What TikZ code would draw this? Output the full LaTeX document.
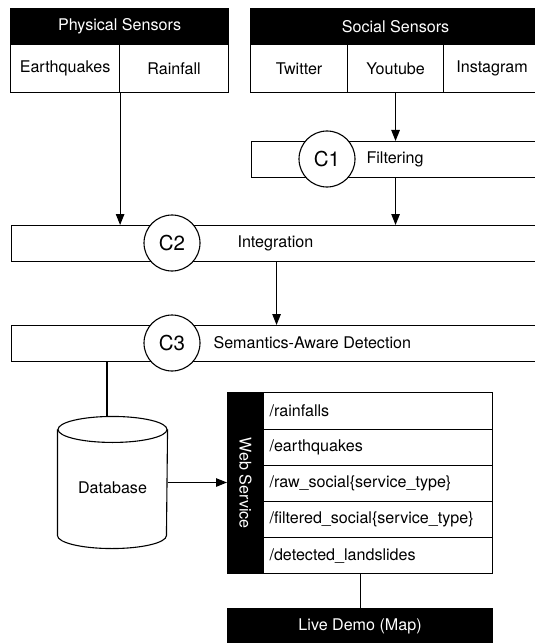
\documentclass[tikz,border=0pt]{standalone}
\usepackage{fontspec}
\setmainfont{TeX Gyre Heros}
\usetikzlibrary{arrows.meta,calc}
\begin{document}
\begin{tikzpicture}[x=1bp,y=1bp,
  font=\fontsize{16.1bp}{19bp}\selectfont, line width=1.1bp,
  hdr/.style={fill=black, text=white, draw=black, anchor=north west, inner sep=0pt, minimum height=36bp},
  cell/.style={draw, fill=white, anchor=north west, inner sep=0pt, minimum height=48bp},
  bar/.style={draw, fill=white, anchor=north west, inner sep=0pt, minimum height=36bp},
  stage/.style={draw, circle, fill=white, minimum size=56bp, inner sep=0pt, font=\fontsize{20.5bp}{24bp}\selectfont},
  tag/.style={anchor=west, inner sep=0pt},
  route/.style={draw, fill=white, anchor=north west, inner sep=0pt, minimum width=229bp, minimum height=36bp, text width=217bp, align=left},
  flow/.style={-{Triangle[length=11bp,width=8.5bp]}}
]
\useasboundingbox (0,-643) rectangle (535,0);
\clip (0,-643) rectangle (535,0);

% physical sensors
\node[hdr, minimum width=218bp] (phys) at (10,-8) {Physical Sensors};
\node[cell, minimum width=109bp] (eq) at (10,-44) {Earthquakes};
\node[cell, minimum width=109bp] (rain) at (119,-44) {Rainfall};

% social sensors
\node[hdr, minimum width=290bp] (soc) at (250,-8) {Social Sensors};
\node[cell, minimum width=97bp] (tw) at (250,-44) {Twitter};
\node[cell, minimum width=96bp] (yt) at (347,-44) {Youtube};
\node[cell, minimum width=97bp] (ig) at (443,-44) {Instagram};

% processing stages
\node[bar, minimum width=290bp] (filt) at (251,-141) {};
\node[stage] (c1) at (327,-159) {C1};
\node[tag] (filtl) at (366,-159) {Filtering};

\node[bar, minimum width=530bp] (integ) at (11,-225) {};
\node[stage] (c2) at (172,-243) {C2};
\node[tag] (integl) at (237,-243) {Integration};

\node[bar, minimum width=530bp] (sem) at (11,-325) {};
\node[stage] (c3) at (172,-343) {C3};
\node[tag] (seml) at (213,-343) {Semantics-Aware Detection};

% flows between stages
\draw[flow] (eq.south east) -- (eq.south east |- integ.north);
\draw[flow] (yt.south) -- (filt.north -| yt.south);
\draw[flow] (filt.south -| yt.south) -- (integ.north -| yt.south);
\draw[flow] (integ.south) -- (sem.north);

% database cylinder
\node[minimum width=109bp, minimum height=131bp, inner sep=0pt] (db) at (112.5,-482.5) {};
\draw ($(db.north west)+(0,-13)$) -- ($(db.south west)+(0,13)$)
  arc[start angle=180, end angle=360, x radius=54.5bp, y radius=13bp]
  -- ($(db.north east)+(0,-13)$);
\draw ($(db.north)+(0,-13)$) ellipse [x radius=54.5bp, y radius=13bp];
\node (dbl) at (112.5,-488) {Database};
\coordinate (tap) at (107,0);
\draw (sem.south -| tap) -- (db.north -| tap);

% web service endpoints
\node[fill=black, draw=black, text=white, anchor=north west, inner sep=0pt,
  minimum width=36bp, minimum height=181bp] (ws) at (227,-392) {\rotatebox{-90}{Web Service}};
\node[route, minimum height=37bp] (r1) at (263,-392) {/rainfalls};
\node[route] (r2) at (263,-429) {/earthquakes};
\node[route] (r3) at (263,-465) {/raw\_social\{service\_type\}};
\node[route] (r4) at (263,-501) {/filtered\_social\{service\_type\}};
\node[route] (r5) at (263,-537) {/detected\_landslides};
\draw[flow] (db.east) -- (db.east -| ws.west);

% live demo
\node[hdr, minimum width=265bp] (live) at (227,-608) {Live Demo (Map)};
\draw (r5.south -| live.north) -- (live.north);
\end{tikzpicture}
\end{document}
